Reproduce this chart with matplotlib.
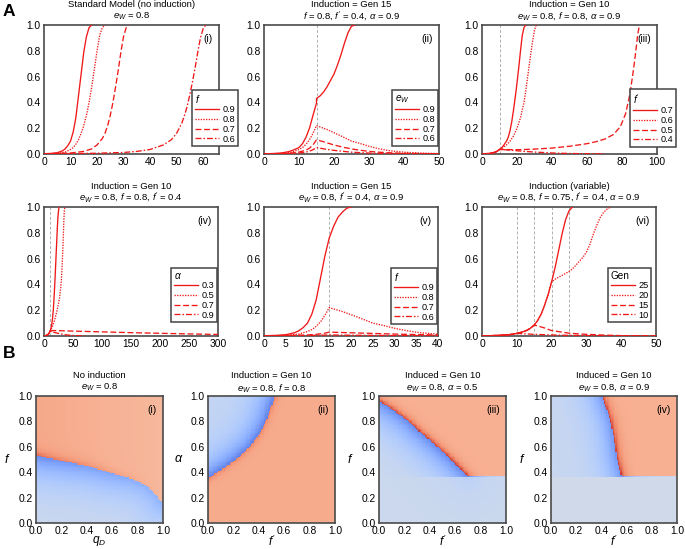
import numpy as np
import matplotlib
matplotlib.use('Agg')
import matplotlib.pyplot as plt

plt.rcParams['font.family'] = ['Liberation Sans', 'DejaVu Sans']
plt.rcParams['mathtext.fontset'] = 'custom'
plt.rcParams['mathtext.rm'] = 'Liberation Sans'
plt.rcParams['mathtext.it'] = 'Liberation Sans:italic'
plt.rcParams['mathtext.bf'] = 'Liberation Sans:bold'

# ---------------- data: panel A (fraction vs generation) ----------------
labels_i = ['0.9', '0.8', '0.7', '0.6']
gen_i = [[0, 3, 5, 7, 8, 9, 10, 11, 12, 13, 14, 15, 16, 17, 18],
         [0, 5, 8, 10, 11, 12, 13, 14, 15, 16, 17, 18, 19, 20, 21, 22, 23],
         [0, 10, 15, 18, 20, 22, 23, 24, 25, 26, 27, 28, 29, 30, 31, 32],
         [0, 10, 20, 30, 35, 40, 45, 48, 50, 52, 53, 54, 55, 56, 57, 58, 59, 60, 61]]
val_i = [[0.002, 0.005, 0.01, 0.025, 0.04, 0.065, 0.1, 0.17, 0.28, 0.45, 0.62, 0.79, 0.91, 0.98, 1.0],
         [0.001, 0.005, 0.015, 0.035, 0.05, 0.075, 0.11, 0.16, 0.22, 0.3, 0.4, 0.52, 0.66, 0.8, 0.92, 0.98, 1.0],
         [0.001, 0.008, 0.02, 0.04, 0.07, 0.12, 0.16, 0.22, 0.3, 0.4, 0.52, 0.65, 0.79, 0.91, 0.98, 1.0],
         [0.001, 0.003, 0.006, 0.012, 0.02, 0.035, 0.07, 0.11, 0.16, 0.24, 0.3, 0.37, 0.46, 0.56, 0.67, 0.79, 0.9, 0.97, 1.0]]

labels_ii = ['0.9', '0.8', '0.7', '0.6']
gen_ii = [[0, 3, 5, 7, 8, 9, 10, 11, 12, 13, 14, 15, 15, 16, 17, 18, 19, 20, 21, 22, 23, 24, 25, 26],
          [0, 5, 8, 10, 11, 12, 13, 14, 15, 16, 18, 20, 22, 25, 27, 30, 33, 36, 40, 45, 50],
          [0, 5, 8, 10, 12, 13, 14, 15, 17, 20, 23, 26, 30, 35, 40, 50],
          [0, 8, 10, 12, 13, 14, 15, 17, 20, 25, 30, 40, 50]]
val_ii = [[0.001, 0.004, 0.008, 0.018, 0.027, 0.038, 0.05, 0.08, 0.13, 0.2, 0.3, 0.395, 0.43, 0.45, 0.48, 0.52, 0.57, 0.62, 0.69, 0.77, 0.86, 0.94, 0.99, 1.0],
          [0.001, 0.005, 0.015, 0.035, 0.05, 0.075, 0.11, 0.16, 0.22, 0.21, 0.19, 0.165, 0.14, 0.1, 0.085, 0.06, 0.04, 0.025, 0.014, 0.007, 0.003],
          [0.001, 0.003, 0.008, 0.015, 0.03, 0.045, 0.07, 0.11, 0.095, 0.07, 0.05, 0.035, 0.02, 0.01, 0.005, 0.001],
          [0.0005, 0.004, 0.008, 0.015, 0.022, 0.033, 0.05, 0.04, 0.028, 0.014, 0.007, 0.002, 0.0005]]

labels_iii = ['0.7', '0.6', '0.5', '0.4']
gen_iii = [[0, 3, 5, 7, 8, 9, 10, 11, 12, 13, 14, 15, 16, 17, 18, 19, 20, 21, 22, 23, 24, 25],
           [0, 3, 5, 7, 8, 9, 10, 12, 14, 16, 18, 20, 22, 24, 25, 26, 27, 28, 29, 30, 31],
           [0, 3, 5, 7, 8, 9, 10, 20, 30, 40, 50, 60, 65, 70, 75, 79, 82, 84, 85, 86, 87, 88, 89, 90],
           [0, 3, 5, 7, 8, 9, 10, 12, 15, 20, 30, 40, 50, 60, 70]]
val_iii = [[0.001, 0.003, 0.006, 0.012, 0.017, 0.025, 0.035, 0.045, 0.06, 0.08, 0.1, 0.13, 0.18, 0.25, 0.34, 0.44, 0.55, 0.67, 0.8, 0.92, 0.98, 1.0],
           [0.001, 0.003, 0.006, 0.012, 0.017, 0.025, 0.035, 0.05, 0.07, 0.1, 0.14, 0.2, 0.28, 0.4, 0.49, 0.59, 0.69, 0.79, 0.88, 0.96, 1.0],
           [0.001, 0.003, 0.006, 0.012, 0.017, 0.025, 0.035, 0.033, 0.038, 0.046, 0.06, 0.08, 0.095, 0.115, 0.15, 0.21, 0.31, 0.43, 0.51, 0.6, 0.7, 0.81, 0.93, 1.0],
           [0.001, 0.003, 0.006, 0.012, 0.017, 0.025, 0.035, 0.034, 0.031, 0.025, 0.015, 0.008, 0.004, 0.002, 0.001]]

labels_iv = ['0.3', '0.5', '0.7', '0.9']
gen_iv = [[0, 3, 5, 7, 8, 9, 10, 11, 12, 13, 14, 15, 16, 17, 18, 19, 20, 21, 22, 23, 24, 25, 26],
          [0, 3, 5, 7, 8, 9, 10, 11, 13, 15, 18, 21, 24, 27, 29, 30, 31, 32, 33, 34, 35, 36],
          [0, 3, 5, 7, 8, 9, 10, 11, 12, 15, 20, 50, 100, 150, 200, 250, 300],
          [0, 3, 5, 7, 8, 9, 10, 12, 15, 20, 30, 40, 50, 60, 70]]
val_iv = [[0.001, 0.003, 0.006, 0.012, 0.017, 0.025, 0.035, 0.045, 0.06, 0.08, 0.11, 0.15, 0.2, 0.27, 0.35, 0.44, 0.54, 0.64, 0.74, 0.84, 0.92, 0.97, 1.0],
          [0.001, 0.003, 0.006, 0.012, 0.017, 0.025, 0.035, 0.045, 0.06, 0.08, 0.12, 0.17, 0.23, 0.3, 0.38, 0.44, 0.52, 0.62, 0.74, 0.87, 0.97, 1.0],
          [0.001, 0.003, 0.006, 0.012, 0.017, 0.025, 0.035, 0.038, 0.04, 0.042, 0.042, 0.038, 0.032, 0.026, 0.021, 0.016, 0.012],
          [0.001, 0.003, 0.006, 0.012, 0.017, 0.025, 0.035, 0.034, 0.031, 0.025, 0.015, 0.008, 0.004, 0.002, 0.001]]

labels_v = ['0.9', '0.8', '0.7', '0.6']
gen_v = [[0, 3, 5, 7, 8, 9, 10, 11, 12, 13, 14, 15, 16, 17, 18, 19, 20],
         [0, 5, 8, 10, 11, 12, 13, 14, 15, 16, 18, 20, 22, 25, 27, 30, 33, 36, 40],
         [0, 5, 10, 12, 13, 14, 15, 17, 20, 25, 30, 35, 40],
         [0, 10, 15, 20, 30, 40]]
val_v = [[0.002, 0.005, 0.01, 0.025, 0.04, 0.065, 0.1, 0.17, 0.28, 0.45, 0.62, 0.76, 0.85, 0.92, 0.96, 0.99, 1.0],
         [0.001, 0.005, 0.015, 0.035, 0.05, 0.075, 0.11, 0.16, 0.22, 0.21, 0.19, 0.165, 0.14, 0.1, 0.085, 0.06, 0.04, 0.025, 0.014],
         [0.001, 0.003, 0.008, 0.013, 0.017, 0.022, 0.03, 0.028, 0.025, 0.02, 0.015, 0.011, 0.008],
         [0.0005, 0.004, 0.008, 0.006, 0.004, 0.002]]

labels_vi = ['25', '20', '15', '10']
gen_vi = [[0, 3, 5, 8, 10, 12, 13, 14, 15, 16, 17, 18, 19, 20, 21, 22, 23, 24, 25, 26],
          [0, 3, 5, 8, 10, 12, 13, 14, 15, 16, 17, 18, 19, 20, 21, 22, 23, 24, 25, 26, 27, 28, 29, 30, 31, 32, 33, 34, 35, 36, 37],
          [0, 3, 5, 8, 10, 12, 13, 14, 15, 16, 17, 18, 20, 22, 25, 28, 30, 35, 40, 50],
          [0, 3, 5, 8, 10, 12, 15, 20, 25, 30, 40, 50]]
val_vi = [[0.001, 0.003, 0.005, 0.011, 0.02, 0.034, 0.045, 0.062, 0.085, 0.12, 0.17, 0.24, 0.32, 0.42, 0.53, 0.66, 0.79, 0.9, 0.97, 1.0],
          [0.001, 0.003, 0.005, 0.011, 0.02, 0.034, 0.045, 0.062, 0.085, 0.12, 0.17, 0.24, 0.32, 0.42, 0.44, 0.455, 0.47, 0.485, 0.5, 0.52, 0.55, 0.58, 0.61, 0.65, 0.71, 0.79, 0.86, 0.92, 0.96, 0.985, 1.0],
          [0.001, 0.003, 0.005, 0.011, 0.02, 0.034, 0.045, 0.062, 0.085, 0.078, 0.07, 0.062, 0.042, 0.034, 0.022, 0.016, 0.013, 0.007, 0.003, 0.001],
          [0.001, 0.003, 0.005, 0.011, 0.02, 0.017, 0.013, 0.008, 0.005, 0.003, 0.001, 0.0005]]

induction_gens = [[], [15], [10], [10], [15], [10, 15, 20, 25]]

# ---------------- data: panel B (boundaries of the two outcomes) ----------------
b1_q = [0.0, 0.1, 0.25, 0.4, 0.5, 0.6, 0.75, 0.86, 0.94, 0.98, 1.0]
b1_f = [0.535, 0.51, 0.48, 0.45, 0.42, 0.39, 0.35, 0.30, 0.23, 0.17, 0.15]
b2_fp = [0.0, 0.12, 0.23, 0.33, 0.41, 0.46, 0.5, 0.53]
b2_a = [0.35, 0.43, 0.51, 0.60, 0.71, 0.81, 0.92, 1.0]
b3_fp = [0.0, 0.11, 0.22, 0.32, 0.46, 0.59, 0.70]
b3_f = [0.96, 0.89, 0.81, 0.72, 0.60, 0.48, 0.365]
b4_f = [0.365, 0.52, 0.66, 0.815, 1.0]
b4_fp = [0.56, 0.52, 0.50, 0.47, 0.405]
f_floor = 0.365

# ---------------- figure ----------------
W, H = 685, 549
fig = plt.figure(figsize=(W / 100, H / 100), dpi=100)


def add_ax(l, t, r, b):
    return fig.add_axes([l / W, 1 - b / H, (r - l) / W, (b - t) / H])


def style(ax):
    for s in ax.spines.values():
        s.set_color('#4a4a4a')
        s.set_linewidth(1.2)
    ax.tick_params(length=0, pad=2.5, labelsize=7.4)


def two_line_title(box, line1, line2, off1, off2):
    cx = (box[0] + box[2]) / 2 / W
    fig.text(cx, 1 - (box[1] - off1) / H, line1, ha='center', va='center', fontsize=6.8)
    fig.text(cx, 1 - (box[1] - off2) / H, line2, ha='center', va='center', fontsize=6.8)


styles = ['-', (0, (1, 1)), (0, (4.5, 2)), (0, (4.5, 1.5, 1.2, 1.5))]
red = '#f01818'

boxes_a = [(44, 25, 219, 154), (264, 25, 439, 154), (482, 25, 657, 154),
           (44, 207, 218, 336), (264, 207, 438, 336), (482, 207, 656, 336)]
titles_a = [("Standard Model (no induction)", "$e_W$ = 0.8"),
            ("Induction = Gen 15", "$f$ = $\\mathit{0.8}$, $f'$ = 0.4, $\\alpha$ = 0.9"),
            ("Induction = Gen 10", "$e_W$ = 0.8, $f$ = 0.8, $\\alpha$ = 0.9"),
            ("Induction = Gen 10", "$e_W$ = 0.8, $f$ = 0.8, $f'$ = 0.4"),
            ("Induction = Gen 15", "$e_W$ = 0.8, $f'$ = 0.4, $\\alpha$ = 0.9"),
            ("Induction (variable)", "$e_W$ = 0.8, $f$ = 0.75, $f'$ = 0.4, $\\alpha$ = 0.9")]
tags = ['(i)', '(ii)', '(iii)', '(iv)', '(v)', '(vi)']
leg_titles = ['$f$', '$e_W$', "$f'$", '$\\alpha$', '$f$', 'Gen']
leg_pos = [(192, 90), (392, 90), (630, 89), (171, 268), (391, 268), (608, 268)]
xlims = [(0, 66), (0, 50), (0, 100), (0, 300), (0, 40), (0, 50)]
xticks = [np.arange(0, 61, 10), np.arange(0, 51, 10), np.arange(0, 101, 20),
          np.arange(0, 301, 50), np.arange(0, 41, 5), np.arange(0, 51, 10)]
gens = [gen_i, gen_ii, gen_iii, gen_iv, gen_v, gen_vi]
vals = [val_i, val_ii, val_iii, val_iv, val_v, val_vi]
labs = [labels_i, labels_ii, labels_iii, labels_iv, labels_v, labels_vi]

for k in range(6):
    ax = add_ax(*boxes_a[k])
    style(ax)
    for g in induction_gens[k]:
        ax.axvline(g, color='#b0b0b0', lw=0.7, ls=(0, (3, 2)), zorder=1)
    for j in range(4):
        ax.plot(gens[k][j], vals[k][j], color=red, lw=0.95, ls=styles[j],
                label=labs[k][j], zorder=3)
    ax.set_xlim(*xlims[k])
    ax.set_ylim(0, 1)
    ax.set_xticks(xticks[k])
    ax.set_yticks(np.arange(0, 1.01, 0.2))
    ax.yaxis.set_major_formatter(matplotlib.ticker.FormatStrFormatter('%.1f'))
    two_line_title(boxes_a[k], titles_a[k][0], titles_a[k][1], 20.5, 9)
    ax.text(0.965, 0.93, tags[k], transform=ax.transAxes, ha='right', va='top', fontsize=7.4)
    lx, ly = leg_pos[k]
    leg = ax.legend(title=leg_titles[k], loc='upper left',
                    bbox_to_anchor=(lx / W, 1 - ly / H), bbox_transform=fig.transFigure,
                    borderaxespad=0, fontsize=6.6, title_fontsize=7.2, frameon=True,
                    fancybox=False, edgecolor='#444444', framealpha=1, borderpad=0.3,
                    labelspacing=0.08, handlelength=2.6, handletextpad=0.4, alignment='left')
    leg.get_frame().set_linewidth(1.1)
    leg.set_zorder(5)

# ---------------- panel B heatmaps ----------------
n = 100
xc = (np.arange(n) + 0.5) / n
X, Y = np.meshgrid(xc, xc)


def dist_to(px, py):
    t = np.linspace(0, 1, 400)
    s = np.linspace(0, 1, len(px))
    cx = np.interp(t, s, px)
    cy = np.interp(t, s, py)
    d = np.sqrt((X[..., None] - cx) ** 2 + (Y[..., None] - cy) ** 2)
    return d.min(axis=-1)


fields = []
# (i)
bnd = np.interp(X, b1_q, b1_f)
d = dist_to(b1_q, b1_f)
orange = Y > bnd
v = np.where(orange,
             0.71 - 0.045 * X + 0.15 * np.exp(-d / 0.035) * (1 - X),
             0.45 - 0.3 * np.exp(-d / 0.18) * (1 - 0.4 * X))
fields.append(v)
# (ii)
bnd = np.interp(X, b2_fp, b2_a, right=2.0)
d = dist_to(b2_fp, b2_a)
blue = Y > bnd
v = np.where(blue, 0.42 - 0.3 * np.exp(-d / 0.12), 0.7 + 0.1 * np.exp(-d / 0.025))
fields.append(v)
# (iii)
bnd = np.interp(X, b3_fp, b3_f)
d = dist_to(b3_fp, b3_f)
orange = Y > bnd
v = np.where(orange, 0.69 + 0.25 * np.exp(-d / 0.025), 0.45 - 0.3 * np.exp(-d / 0.15))
v = np.where(Y < f_floor, 0.44 - 0.06 * np.exp(-d / 0.15), v)
fields.append(v)
# (iv)
bnd = np.interp(Y, b4_f, b4_fp)
d = dist_to(b4_fp, b4_f)
orange = (X > bnd) & (Y > f_floor)
v = np.where(orange, 0.69 + 0.25 * np.exp(-d / 0.03), 0.43 - 0.25 * np.exp(-d / 0.12))
v = np.where(Y < f_floor, 0.45, v)
fields.append(v)

boxes_b = [(36, 396, 163, 523), (208, 396, 335, 523), (379, 396, 506, 523), (551, 396, 677, 523)]
titles_b = [("No induction", "$e_W$ = 0.8"),
            ("Induction = Gen 10", "$e_W$ = 0.8, $f$ = 0.8"),
            ("Induced = Gen 10", "$e_W$ = 0.8, $\\alpha$ = 0.5"),
            ("Induced = Gen 10", "$e_W$ = 0.8, $\\alpha$ = 0.9")]
xlabels_b = ['$q_D$', "$f'$", "$f'$", "$f'$"]
ylabels_b = ['$f$', '$\\alpha$', '$f$', '$f$']
tags_b = ['(i)', '(ii)', '(iii)', '(iv)']

for k in range(4):
    ax = add_ax(*boxes_b[k])
    style(ax)
    ax.imshow(fields[k], cmap='coolwarm', vmin=0, vmax=1, origin='lower',
              extent=[0, 1, 0, 1], interpolation='nearest', aspect='auto')
    ax.set_xlim(0, 1)
    ax.set_ylim(0, 1)
    ax.set_xticks(np.arange(0, 1.01, 0.2))
    ax.set_yticks(np.arange(0, 1.01, 0.2))
    ax.xaxis.set_major_formatter(matplotlib.ticker.FormatStrFormatter('%.1f'))
    ax.yaxis.set_major_formatter(matplotlib.ticker.FormatStrFormatter('%.1f'))
    two_line_title(boxes_b[k], titles_b[k][0], titles_b[k][1], 20, 8.5)
    ax.text(0.5, -0.145, xlabels_b[k], transform=ax.transAxes, ha='center', va='center', fontsize=8.5)
    ax.text(-0.23, 0.5, ylabels_b[k], transform=ax.transAxes, ha='center', va='center', fontsize=9)
    ax.text(0.95, 0.93, tags_b[k], transform=ax.transAxes, ha='right', va='top', fontsize=7.4)

fig.text(3 / W, 1 - 12 / H, 'A', fontsize=12.5, fontweight='bold', va='center')
fig.text(3 / W, 1 - 354 / H, 'B', fontsize=12.5, fontweight='bold', va='center')

fig.savefig('out.png', dpi=100)
